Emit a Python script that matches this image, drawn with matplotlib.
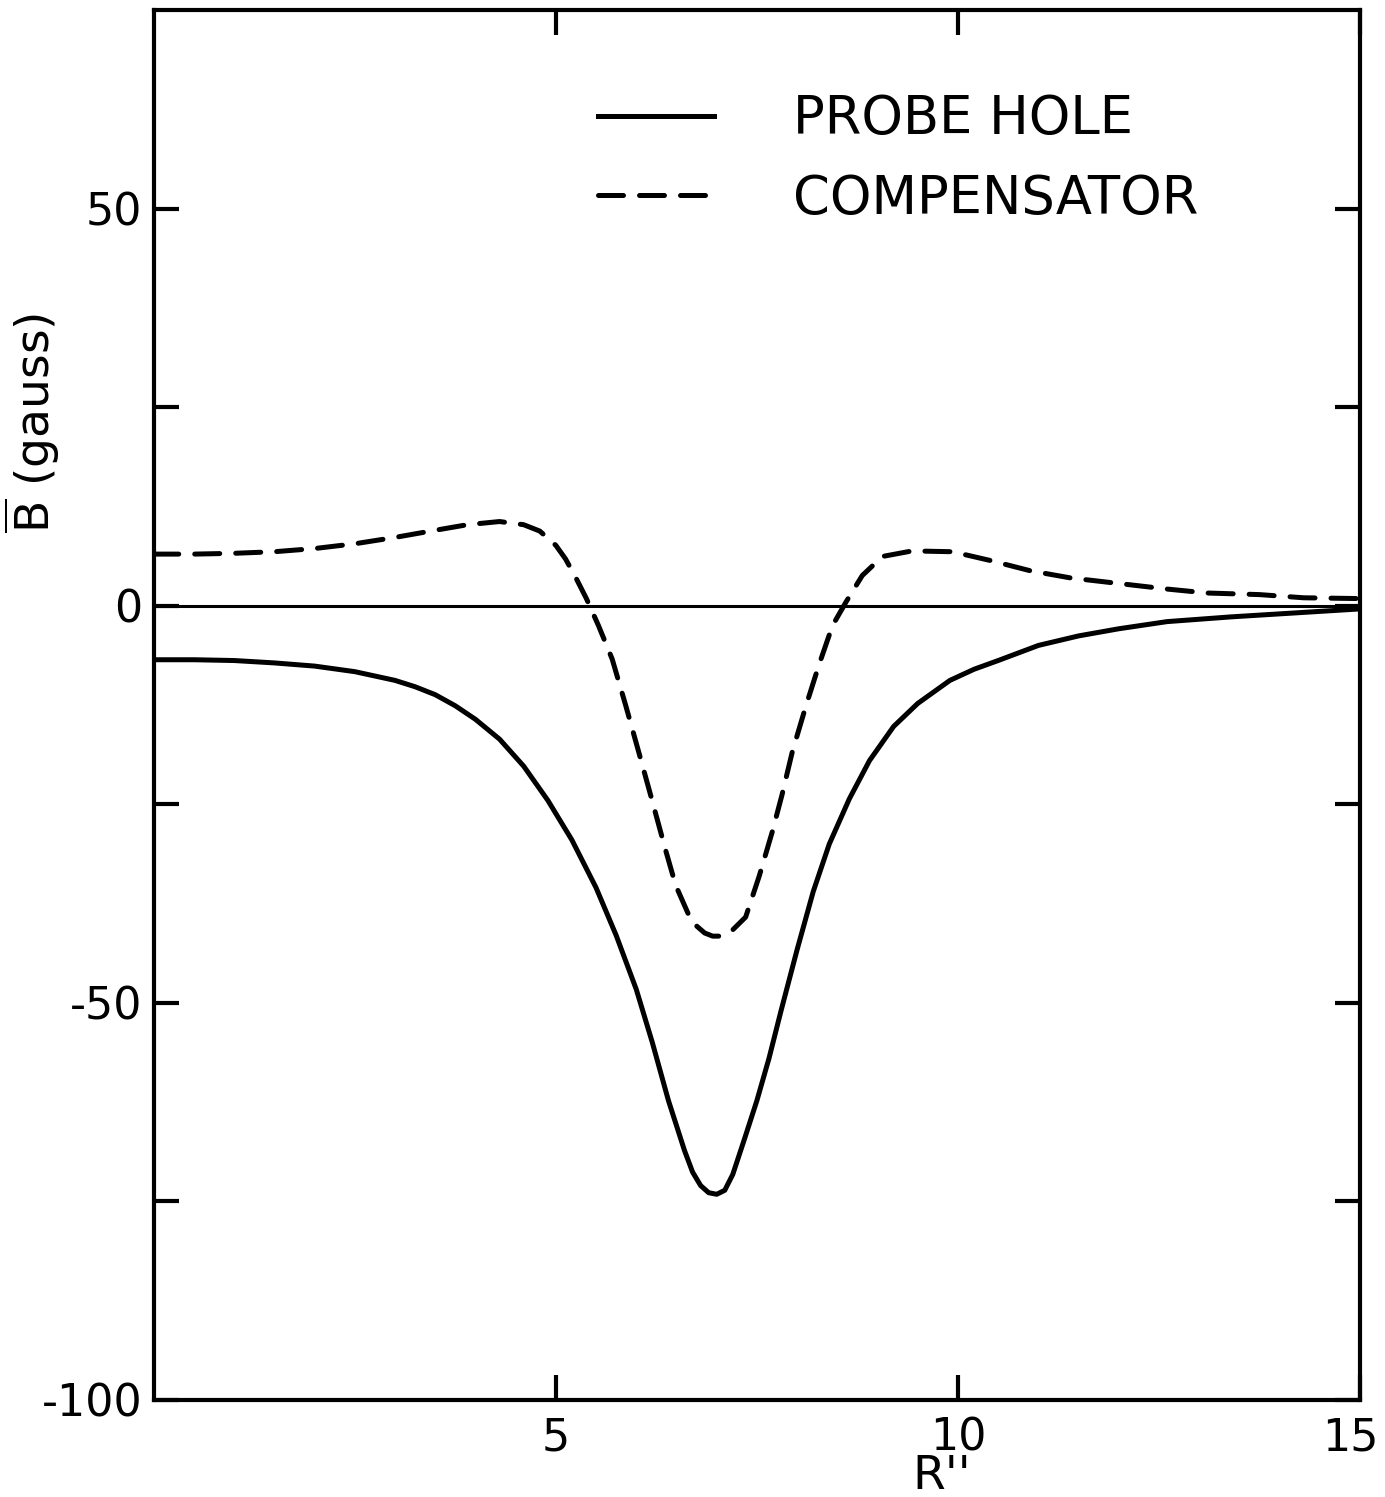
import numpy as np
import matplotlib
matplotlib.use('Agg')
import matplotlib.pyplot as plt
import matplotlib.transforms as mtransforms

plt.rcParams['font.family'] = ['DejaVu Sans']

# values
r_probe = [0.0, 0.5, 1.0, 1.5, 2.0, 2.5, 3.0, 3.25, 3.5, 3.75, 4.0, 4.3, 4.6, 4.9,
           5.2, 5.5, 5.75, 6.0, 6.2, 6.4, 6.6, 6.7, 6.8, 6.9, 7.0, 7.1, 7.2,
           7.35, 7.5, 7.65, 7.8, 8.0, 8.2, 8.4, 8.65, 8.9, 9.2, 9.5, 9.9, 10.2,
           10.5, 11.0, 11.5, 12.0, 12.6, 13.4, 14.2, 15.0]
b_probe = [-6.8, -6.8, -6.9, -7.2, -7.6, -8.3, -9.4, -10.2, -11.2, -12.6, -14.3,
           -16.8, -20.2, -24.5, -29.5, -35.5, -41.5, -48.3, -55.0, -62.3, -68.6,
           -71.3, -73.0, -73.9, -74.1, -73.6, -71.6, -67.0, -62.3, -57.0, -51.0,
           -43.3, -36.0, -30.0, -24.3, -19.5, -15.2, -12.3, -9.4, -8.0, -6.9,
           -5.0, -3.8, -2.9, -2.0, -1.4, -0.9, -0.4]

r_comp = [0.0, 0.5, 1.0, 1.5, 2.0, 2.5, 3.0, 3.5, 3.9, 4.3, 4.6, 4.8, 5.0, 5.12,
          5.25, 5.38, 5.53, 5.7, 5.87, 6.03, 6.18, 6.36, 6.49, 6.69, 6.85, 6.95,
          7.03, 7.12, 7.2, 7.36, 7.53, 7.69, 7.81, 7.94, 8.11, 8.27, 8.44, 8.61,
          8.81, 9.06, 9.43, 9.93, 10.4, 10.9, 11.4, 12.0, 12.6, 13.1, 13.75,
          14.3, 15.0]
b_comp = [6.5, 6.5, 6.6, 6.8, 7.2, 7.8, 8.6, 9.5, 10.2, 10.6, 10.2, 9.4, 7.6, 5.9,
          3.5, 0.9, -2.5, -6.7, -12.6, -18.4, -23.9, -30.6, -35.2, -39.8, -41.2,
          -41.6, -41.6, -41.3, -40.8, -39.2, -34.0, -28.5, -23.9, -18.4, -12.6,
          -7.5, -2.5, 0.5, 3.8, 6.2, 6.9, 6.8, 5.7, 4.4, 3.5, 2.8, 2.1, 1.6, 1.4,
          1.0, 0.9]

y_ticks = [-100, -75, -50, -25, 0, 25, 50]
y_ticklabels = ['-100', '', '-50', '', '0', '', '50']
x_ticks = [5, 10, 15]
x_ticklabels = ['5', '10', '15']

fig = plt.figure(figsize=(13.85, 14.97), dpi=100)
ax = fig.add_axes([0.111, 0.0648, 0.871, 0.9285])

ax.axhline(0, color='black', lw=2.2)
ax.plot(r_probe, b_probe, color='black', lw=3.6, label='PROBE HOLE')
ax.plot(r_comp, b_comp, color='black', lw=3.6, linestyle=(0, (5, 3.2)),
        dash_capstyle='round', label='COMPENSATOR')

ax.set_xlim(0, 15)
ax.set_ylim(-100, 75)

ax.set_yticks(y_ticks)
ax.set_yticklabels(y_ticklabels)
ax.set_xticks(x_ticks)
ax.set_xticklabels(x_ticklabels)
ax.tick_params(axis='both', direction='in', length=18, width=3, labelsize=32,
               top=True, right=True)
ax.tick_params(axis='y', pad=8)
ax.tick_params(axis='x', pad=12)

# keep the "15" inside the page, as in the original
lbl15 = ax.get_xticklabels()[2]
lbl15.set_transform(lbl15.get_transform() +
                    mtransforms.ScaledTranslation(-0.1, 0, fig.dpi_scale_trans))

for s in ax.spines.values():
    s.set_linewidth(3)

ax.set_ylabel(r'$\overline{\mathrm{B}}$ (gauss)', fontsize=34)
ax.yaxis.set_label_coords(-0.076, 0.703)
ax.set_xlabel("R''", fontsize=34, va='top')
ax.xaxis.set_label_coords(0.653, -0.039)

ax.legend(loc='upper left', bbox_to_anchor=(0.368, 0.94), frameon=False,
          fontsize=38, handlelength=2.2, handletextpad=1.5, labelspacing=0.52,
          borderpad=0, borderaxespad=0)

fig.savefig('out.png', dpi=100)
